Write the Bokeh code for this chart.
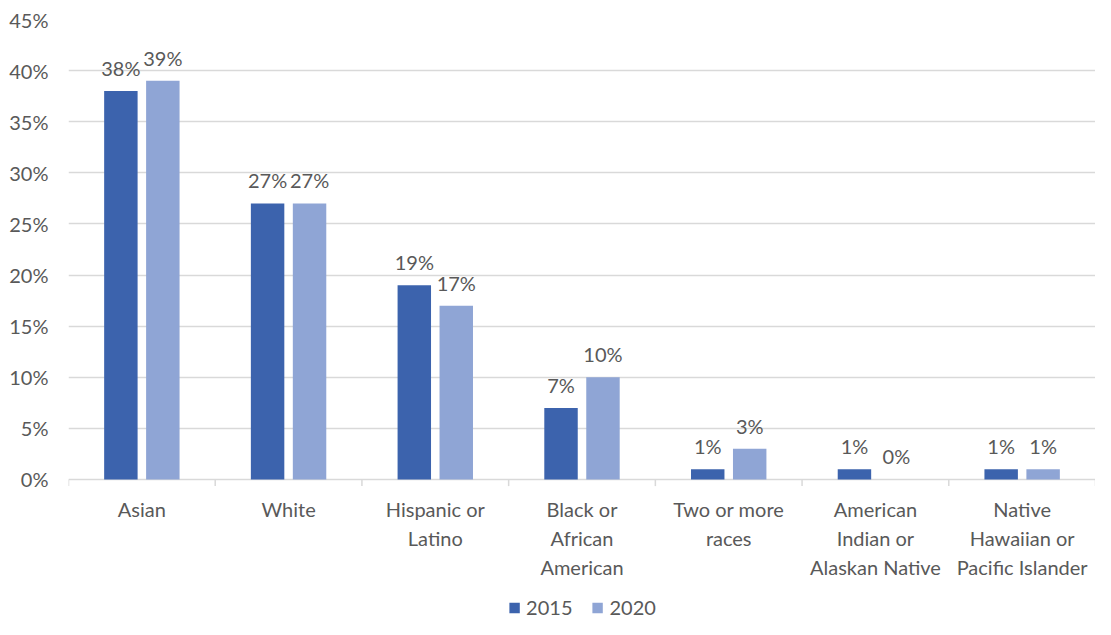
from bokeh.plotting import figure
from bokeh.models import (ColumnDataSource, FactorRange, Range1d, FixedTicker,
                          PrintfTickFormatter, Legend, LegendItem)
from bokeh.transform import dodge
from bokeh.core.properties import value
from bokeh.embed import file_html
from bokeh.resources import INLINE

categories = ["Asian", "White", "Hispanic or\nLatino", "Black or\nAfrican\nAmerican",
              "Two or more\nraces", "American\nIndian or\nAlaskan Native",
              "Native\nHawaiian or\nPacific Islander"]
series_names = ["2015", "2020"]
values_2015 = [38, 27, 19, 7, 1, 1, 1]
values_2020 = [39, 27, 17, 10, 3, 0, 1]
y_ticks = [0, 5, 10, 15, 20, 25, 30, 35, 40, 45]

FONT = "Lato"
FS = "20px"
TXT = "#595959"
DARK = "#3C63AD"
LIGHT = "#8FA5D5"
GRID = "#D9D9D9"

src = ColumnDataSource(dict(
    cat=categories,
    v15=values_2015,
    v20=values_2020,
    l15=[f"{v}%" for v in values_2015],
    l20=[f"{v}%" for v in values_2020],
    zero=[0] * len(categories),
    tick=[-0.65] * len(categories),
))

p = figure(x_range=FactorRange(*categories, range_padding=0),
           y_range=Range1d(-13.70, 45),
           width=1095, height=619, output_backend="svg", toolbar_location=None,
           min_border_left=68, min_border_right=0, min_border_top=19,
           min_border_bottom=0)
p.outline_line_color = None
p.background_fill_color = "white"
p.border_fill_color = "white"
p.xaxis.visible = False

bw = 0.228
off = 0.143
r15 = p.vbar(x=dodge("cat", -off, range=p.x_range), top="v15", width=bw, bottom=0,
             source=src, fill_color=DARK, line_color=None)
r20 = p.vbar(x=dodge("cat", off, range=p.x_range), top="v20", width=bw, bottom=0,
             source=src, fill_color=LIGHT, line_color=None)

for col, lab, o in (("v15", "l15", -off), ("v20", "l20", off)):
    p.text(x=dodge("cat", o, range=p.x_range), y=col, text=lab, source=src,
           text_align="center", text_baseline="bottom", y_offset=-11,
           text_font=value(FONT), text_font_size=FS, text_color=TXT)

# category labels
p.text(x="cat", y="zero", text="cat", source=src, text_align="center",
       text_baseline="top", y_offset=18, text_line_height=1.2,
       text_font=value(FONT), text_font_size=FS, text_color=TXT)

# category boundary ticks
p.segment(x0=dodge("cat", -0.5, range=p.x_range), y0="zero",
          x1=dodge("cat", -0.5, range=p.x_range), y1="tick",
          source=src, line_color=GRID, line_width=1.5)
esrc = ColumnDataSource(dict(cat=categories[-1:], y0=[0], y1=[-0.65]))
p.segment(x0=dodge("cat", 0.5, range=p.x_range), y0="y0",
          x1=dodge("cat", 0.5, range=p.x_range), y1="y1",
          source=esrc, line_color=GRID, line_width=1.5)

p.xgrid.grid_line_color = None
p.ygrid.ticker = FixedTicker(ticks=y_ticks)
p.ygrid.grid_line_color = GRID
p.ygrid.grid_line_width = 1.3

p.yaxis.ticker = FixedTicker(ticks=y_ticks)
p.yaxis.formatter = PrintfTickFormatter(format="%d%%")
p.yaxis.axis_line_color = None
p.yaxis.major_tick_line_color = None
p.yaxis.minor_tick_line_color = None
p.yaxis.major_tick_out = 0
p.yaxis.major_label_standoff = 20
p.yaxis.major_label_text_font = FONT
p.yaxis.major_label_text_font_size = FS
p.yaxis.major_label_text_color = TXT

legend = Legend(items=[LegendItem(label=series_names[0], renderers=[r15]),
                       LegendItem(label=series_names[1], renderers=[r20])],
                orientation="horizontal", location="bottom_center",
                label_text_font=FONT, label_text_font_size=FS,
                label_text_color=TXT, glyph_width=13, glyph_height=13,
                label_standoff=6, spacing=18, padding=2, margin=0,
                border_line_color=None, background_fill_alpha=0)
p.add_layout(legend, "center")

open("out.html", "w").write(file_html(p, INLINE))
